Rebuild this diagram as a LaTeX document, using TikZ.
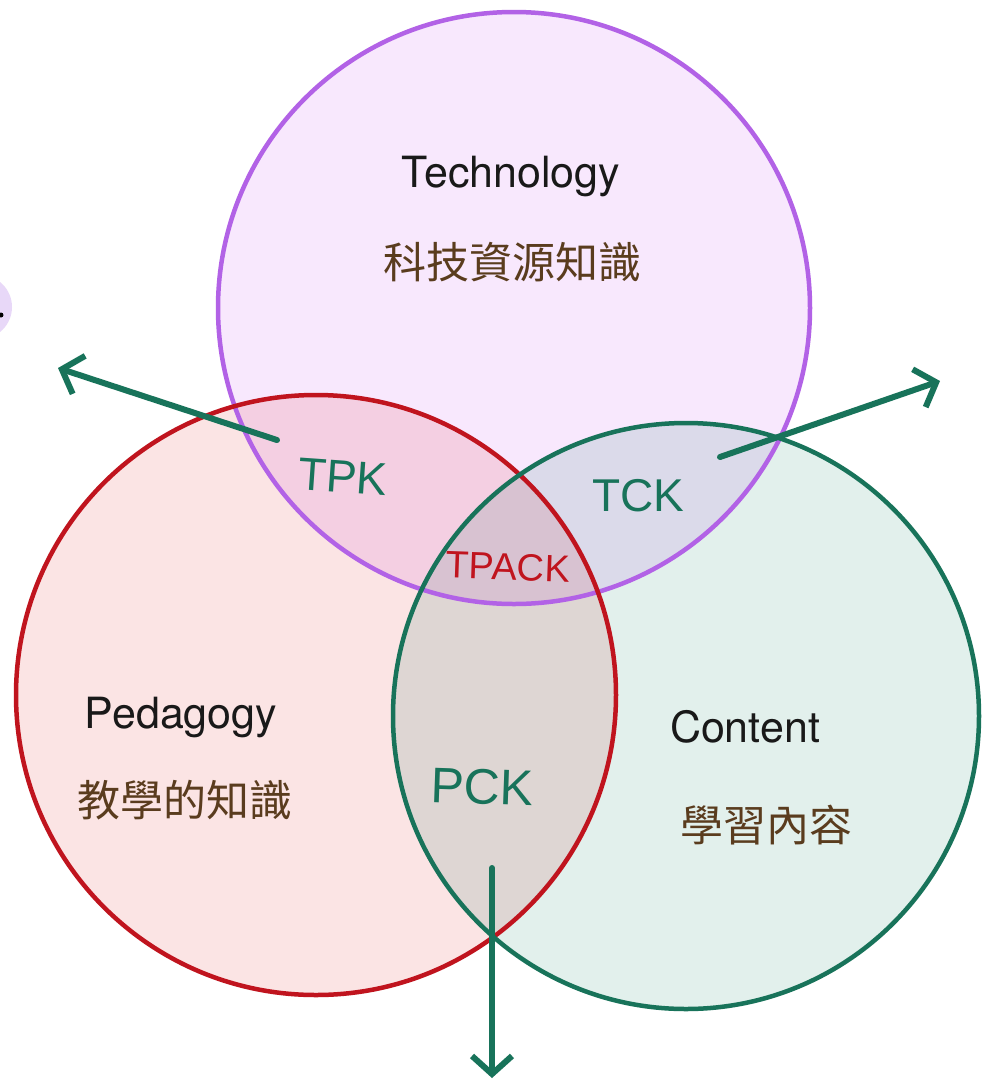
\documentclass[tikz,border=0pt]{standalone}
\usepackage{fontspec}
\setmainfont{TeX Gyre Heros}
\newfontfamily\cjkfont{Noto Sans CJK TC}
\newfontfamily\handfont{Liberation Sans}
\usetikzlibrary{arrows.meta}
\definecolor{techline}{HTML}{B262E6}
\definecolor{techfill}{HTML}{F8E8FD}
\definecolor{pedline}{HTML}{C0141E}
\definecolor{pedfill}{HTML}{FBE4E4}
\definecolor{conline}{HTML}{18735A}
\definecolor{confill}{HTML}{E2F0EC}
\definecolor{cjkbrown}{HTML}{5A3C1E}
\definecolor{blobfill}{HTML}{E8D8F8}
\tikzset{
  ring/.style={circle, inner sep=0pt, line width=4.5pt},
  title/.style={font=\fontsize{43}{50}\selectfont, text=black!90},
  cjk/.style={font=\cjkfont\fontsize{43}{50}\selectfont, text=cjkbrown},
  hand/.style={inner sep=1pt, text=conline},
  pointer/.style={draw=conline, line width=6pt, line cap=round, line join=round,
    -{Straight Barb[length=18pt, width=40pt, line width=6pt]}},
}
\begin{document}
\begin{tikzpicture}[x=1pt, y=-1pt]
\useasboundingbox (0,0) rectangle (982,1085);
\fill[white] (0,0) rectangle (982,1085);
% small blob at left edge
\begin{scope}
  \clip (0,0) rectangle (982,1085);
  \fill[blobfill] (-20,307) circle (32);
  \fill[black] (1,315) circle (2.5);
\end{scope}
% fills
\begin{scope}[blend mode=multiply]
  \fill[techfill] (514,308) circle (296);
  \fill[pedfill] (316,695) circle (300);
  \fill[confill] (686,716) circle (293);
\end{scope}
% outlines
\node[ring, draw=techline, minimum size=592pt] (T) at (514,308) {};
\node[ring, draw=pedline, minimum size=600pt] (P) at (316,695) {};
\node[ring, draw=conline, minimum size=586pt] (C) at (686,716) {};
% labels
\node[title] (tT) at (511,177) {Technology};
\node[cjk] (tTc) at (512,262) {科技資源知識};
\node[title] (tP) at (181,718) {Pedagogy};
\node[cjk] (tPc) at (185,800) {教學的知識};
\node[title] (tC) at (745,727) {Content};
\node[cjk] (tCc) at (766,825) {學習內容};
% handwritten labels
\node[hand, font=\handfont\fontsize{46}{52}\selectfont, rotate=-4] (tpk) at (343,477) {TPK};
\node[hand, font=\handfont\fontsize{46}{52}\selectfont] (tck) at (638,496) {TCK};
\node[hand, text=pedline, font=\handfont\fontsize{38}{44}\selectfont, rotate=-2] (tpack) at (508,567) {TPACK};
\node[hand, font=\handfont\fontsize{50}{56}\selectfont, rotate=-2] (pck) at (482,787) {PCK};
% arrows
\coordinate (a1s) at (277,440);
\coordinate (a1e) at (58,368);
\coordinate (a2s) at (720,457);
\coordinate (a2e) at (940,381);
\coordinate (a3s) at (492,868);
\coordinate (a3e) at (492,1078);
\draw[pointer] (a1s) -- (a1e);
\draw[pointer] (a2s) -- (a2e);
\draw[pointer] (a3s) -- (a3e);
\end{tikzpicture}
\end{document}
